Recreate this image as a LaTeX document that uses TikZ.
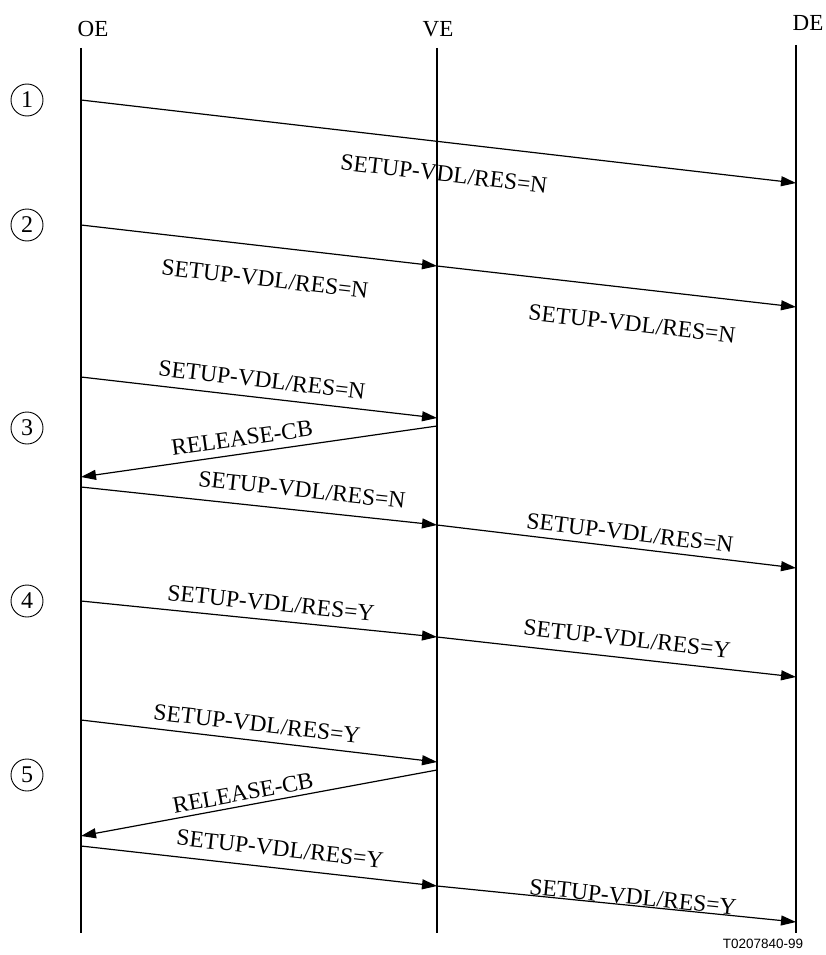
\documentclass[tikz,border=0pt]{standalone}
\usepackage{fontspec}
\setmainfont{Liberation Serif}
\newfontfamily\tagfont{Liberation Sans}
\usetikzlibrary{arrows.meta}

\begin{document}
\begin{tikzpicture}[
  x=1pt, y=-1pt,
  ent/.style={font=\fontsize{23}{25}\selectfont, inner sep=0pt},
  life/.style={line width=2pt},
  phase/.style={draw, circle, line width=.9pt, minimum size=32pt, inner sep=0pt,
                font=\fontsize{24}{26}\selectfont},
  msg/.style={-{Triangle[length=15pt,width=10pt]}, line width=1.2pt},
  lbl/.style={font=\fontsize{23.5}{25}\selectfont, inner sep=0pt},
]
\useasboundingbox (0,0) rectangle (825,955);

%% ================= entities and lifelines =================
\node[ent] (oe) at (93,29) {OE};
\node[ent] (ve) at (438,29) {VE};
\node[ent] (de) at (808,23) {DE};
\coordinate (oetop) at (81,48);  \coordinate (oebot) at (81,933);
\coordinate (vetop) at (437,48); \coordinate (vebot) at (437,933);
\coordinate (detop) at (796,45); \coordinate (debot) at (796,933);
\draw[life] (oetop) -- (oebot);
\draw[life] (vetop) -- (vebot);
\draw[life] (detop) -- (debot);

%% ================= phase markers =================
\foreach \n/\y in {1/100,2/225,3/428,4/601,5/775}
  \node[phase] (ph\n) at (27,\y) {\n};

%% ================= message end points =================
\coordinate (o1) at (81,100);  \coordinate (d1) at (796,183);
\coordinate (o2) at (81,225);  \coordinate (v2) at (437,266); \coordinate (d2) at (796,307);
\coordinate (o3a) at (81,377); \coordinate (v3a) at (437,418);
\coordinate (v3b) at (437,426); \coordinate (o3b) at (81,477);
\coordinate (o3c) at (81,487); \coordinate (v3c) at (437,525); \coordinate (d3c) at (796,568);
\coordinate (o4) at (81,601);  \coordinate (v4) at (437,637); \coordinate (d4) at (796,677);
\coordinate (o5a) at (81,720); \coordinate (v5a) at (437,762);
\coordinate (v5b) at (437,770); \coordinate (o5b) at (81,836);
\coordinate (o5c) at (81,846); \coordinate (v5c) at (437,886); \coordinate (d5c) at (796,922);

%% ================= 1 =================
\draw[msg] (o1) -- (d1);
\node[lbl, rotate=-6.6] (l1) at (444,174) {SETUP-VDL/RES=N};

%% ================= 2 =================
\draw[msg] (o2) -- (v2);
\draw[msg] (v2) -- (d2);
\node[lbl, rotate=-6.6] (l2a) at (265,279) {SETUP-VDL/RES=N};
\node[lbl, rotate=-6.4] (l2b) at (632,324) {SETUP-VDL/RES=N};

%% ================= 3 =================
\draw[msg] (o3a) -- (v3a);
\draw[msg] (v3b) -- (o3b);
\draw[msg] (o3c) -- (v3c);
\draw[msg] (v3c) -- (d3c);
\node[lbl, rotate=-6.6] (l3a) at (262,380) {SETUP-VDL/RES=N};
\node[lbl, rotate=8] (l3b) at (242,438) {RELEASE-CB};
\node[lbl, rotate=-6.1] (l3c) at (302,490) {SETUP-VDL/RES=N};
\node[lbl, rotate=-6.8] (l3d) at (630,533) {SETUP-VDL/RES=N};

%% ================= 4 =================
\draw[msg] (o4) -- (v4);
\draw[msg] (v4) -- (d4);
\node[lbl, rotate=-5.8] (l4a) at (271,603) {SETUP-VDL/RES=Y};
\node[lbl, rotate=-6.4] (l4b) at (627,639) {SETUP-VDL/RES=Y};

%% ================= 5 =================
\draw[msg] (o5a) -- (v5a);
\draw[msg] (v5b) -- (o5b);
\draw[msg] (o5c) -- (v5c);
\draw[msg] (v5c) -- (d5c);
\node[lbl, rotate=-6.6] (l5a) at (257,724) {SETUP-VDL/RES=Y};
\node[lbl, rotate=10.5] (l5b) at (243,793) {RELEASE-CB};
\node[lbl, rotate=-6.4] (l5c) at (280,849) {SETUP-VDL/RES=Y};
\node[lbl, rotate=-5.7] (l5d) at (633,897) {SETUP-VDL/RES=Y};

\node[font=\tagfont\fontsize{13.5}{15}\selectfont, inner sep=0pt] (tag) at (763,944) {T0207840-99};

\end{tikzpicture}
\end{document}
